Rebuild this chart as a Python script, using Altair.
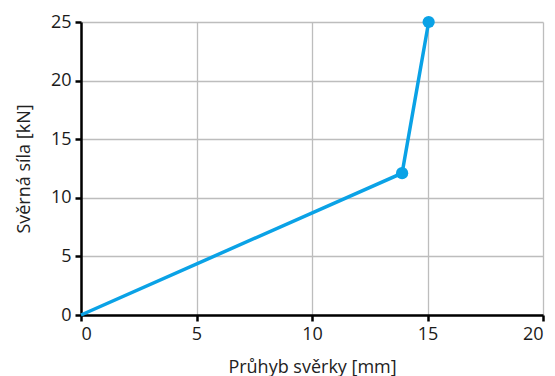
import altair as alt
import pandas as pd

x_vals = [0, 13.9, 15.05]
y_vals = [0, 12.1, 25]
marker_x = [13.9, 15.05]
marker_y = [12.1, 25]

line_df = pd.DataFrame({"x": x_vals, "y": y_vals, "order": list(range(len(x_vals)))})
pt_df = pd.DataFrame({"x": marker_x, "y": marker_y})

color = "#0AA2E6"

xs = alt.Scale(domain=[0, 20], nice=False)
ys = alt.Scale(domain=[0, 25], nice=False)

xax = alt.Axis(title="Průhyb svěrky [mm]", values=[0, 5, 10, 15, 20], format="d")
yax = alt.Axis(title="Svěrná síla [kN]", values=[0, 5, 10, 15, 20, 25], format="d")

line = alt.Chart(line_df).mark_line(color=color, strokeWidth=3.5).encode(
    x=alt.X("x:Q", scale=xs, axis=xax),
    y=alt.Y("y:Q", scale=ys, axis=yax),
    order="order:Q",
)
pts = alt.Chart(pt_df).mark_point(filled=True, color=color, size=150, opacity=1).encode(
    x=alt.X("x:Q", scale=xs),
    y=alt.Y("y:Q", scale=ys),
)

chart = (line + pts).properties(
    width=462, height=293,
    autosize=alt.AutoSizeParams(type="none"),
    padding={"left": 73, "top": 14, "right": 4, "bottom": 61},
).configure_view(stroke=None).configure_axis(
    labelFont="Open Sans", titleFont="Open Sans",
    labelFontSize=18, titleFontSize=18, titleFontWeight="normal",
    labelColor="#1a1a1a", titleColor="#222222",
    domainColor="#000000", domainWidth=2.5,
    tickColor="#000000", tickWidth=2.5, tickSize=6,
    gridColor="#bdbdbd", gridWidth=1.3,
    labelPadding=4,
).configure_axisX(titlePadding=15).configure_axisY(titlePadding=17)

chart.save("out.html", embed_options={"renderer": "svg", "actions": False})
